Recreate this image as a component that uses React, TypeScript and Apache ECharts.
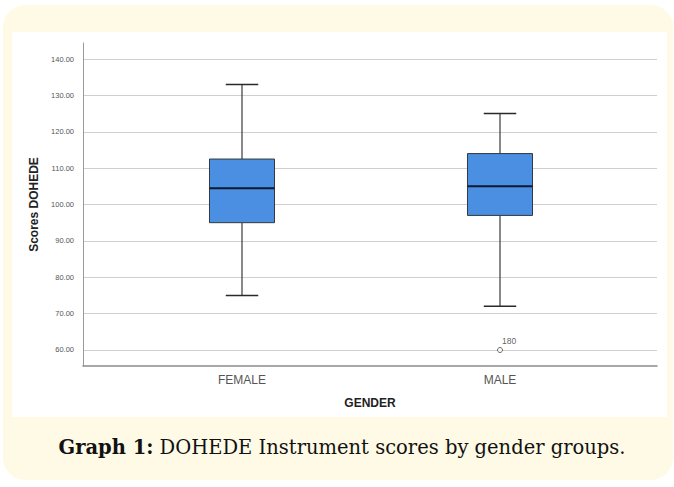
import React, { useEffect, useRef } from "react";
import * as echarts from "echarts";

const categories = ["FEMALE", "MALE"];
// [min, Q1, median, Q3, max]
const boxValues = [
  [75, 95, 104.5, 112.5, 133],
  [72, 97, 105, 114, 125],
];
const outliers = [[1, 60]];
const outlierLabels = ["180"];
const yMin = 55.6;
const yMax = 144.4;

export default function App() {
  const ref = useRef<HTMLDivElement>(null);

  useEffect(() => {
    if (!ref.current) return;
    const chart = echarts.init(ref.current, null, { renderer: "svg" });
    const boxData = boxValues.map((v, i) => [i, ...v]);

    const option: any = {
      animation: false,
      backgroundColor: "#ffffff",
      graphic: [
        {
          type: "rect",
          z: -10,
          shape: { x: 3, y: 5, width: 670, height: 475, r: 22 },
          style: { fill: "#fefae6" },
        },
        {
          type: "rect",
          z: -9,
          shape: { x: 12, y: 32, width: 655, height: 385 },
          style: { fill: "#ffffff" },
        },
        {
          type: "text",
          x: 342,
          y: 447,
          style: {
            text: "{b|Graph 1:} DOHEDE Instrument scores by gender groups.",
            font: "19.5px 'DejaVu Serif'",
            fill: "#111111",
            align: "center",
            verticalAlign: "middle",
            rich: {
              b: { fontWeight: "bold", fontFamily: "DejaVu Serif", fontSize: 19.5, fill: "#111111" },
            },
          },
        },
      ],
      grid: [
        { left: 83, right: 17, top: 43, bottom: 121 },
        { left: 113, right: 45, top: 43, bottom: 121 },
      ],
      xAxis: [
        {
          type: "category",
          gridIndex: 0,
          data: [],
          name: "GENDER",
          nameLocation: "middle",
          nameGap: 31,
          nameTextStyle: { fontFamily: "Liberation Sans", fontWeight: "bold", fontSize: 12, color: "#222" },
          axisLine: { lineStyle: { color: "#8a8a8a", width: 1.5 } },
          axisTick: { show: false },
          axisLabel: { show: false },
          splitLine: { show: false },
        },
        {
          type: "category",
          gridIndex: 1,
          data: categories,
          axisLine: { show: false },
          axisTick: { show: false },
          axisLabel: { margin: 8, fontFamily: "Liberation Sans", fontSize: 12, color: "#555" },
          splitLine: { show: false },
        },
      ],
      yAxis: [
        {
          type: "value",
          gridIndex: 0,
          min: yMin,
          max: yMax,
          splitNumber: 9,
          name: "Scores DOHEDE",
          nameLocation: "middle",
          nameGap: 34,
          nameRotate: 90,
          nameTextStyle: { fontFamily: "Liberation Sans", fontWeight: "bold", fontSize: 12, color: "#222" },
          axisLine: { show: true, lineStyle: { color: "#9a9a9a", width: 1 } },
          axisTick: { show: false },
          axisLabel: {
            margin: 9,
            fontFamily: "Liberation Sans",
            fontSize: 7.5,
            color: "#555",
            showMinLabel: false,
            showMaxLabel: false,
            formatter: (v: number) => v.toFixed(2),
          },
          splitLine: {
            show: true,
            showMinLine: false,
            showMaxLine: false,
            lineStyle: { color: "#cfcfcf", width: 1 },
          },
        },
        {
          type: "value",
          gridIndex: 1,
          min: yMin,
          max: yMax,
          splitNumber: 9,
          show: false,
          splitLine: { show: false },
        },
      ],
      series: [
        {
          type: "custom",
          xAxisIndex: 1,
          yAxisIndex: 1,
          data: boxData,
          encode: { x: 0, y: [1, 2, 3, 4, 5] },
          renderItem: (params: any, api: any) => {
            const idx = api.value(0);
            const pMin = api.coord([idx, api.value(1)]);
            const pQ1 = api.coord([idx, api.value(2)]);
            const pMed = api.coord([idx, api.value(3)]);
            const pQ3 = api.coord([idx, api.value(4)]);
            const pMax = api.coord([idx, api.value(5)]);
            const band = api.size([1, 0])[0];
            const bw = band * 0.252;
            const cw = bw / 2;
            const x = pMin[0];
            const lineStyle = { stroke: "#3a3a3a", lineWidth: 1.2 };
            return {
              type: "group",
              children: [
                { type: "line", shape: { x1: x, y1: pMin[1], x2: x, y2: pQ1[1] }, style: lineStyle },
                { type: "line", shape: { x1: x, y1: pQ3[1], x2: x, y2: pMax[1] }, style: lineStyle },
                { type: "line", shape: { x1: x - cw / 2, y1: pMin[1], x2: x + cw / 2, y2: pMin[1] }, style: { stroke: "#2a2a2a", lineWidth: 1.5 } },
                { type: "line", shape: { x1: x - cw / 2, y1: pMax[1], x2: x + cw / 2, y2: pMax[1] }, style: { stroke: "#2a2a2a", lineWidth: 1.5 } },
                {
                  type: "rect",
                  shape: { x: x - bw / 2, y: pQ3[1], width: bw, height: pQ1[1] - pQ3[1] },
                  style: { fill: "#4a8fe2", stroke: "#33393f", lineWidth: 1 },
                },
                { type: "line", shape: { x1: x - bw / 2, y1: pMed[1], x2: x + bw / 2, y2: pMed[1] }, style: { stroke: "#0d1a2b", lineWidth: 2 } },
              ],
            };
          },
        },
        {
          type: "scatter",
          xAxisIndex: 1,
          yAxisIndex: 1,
          data: outliers,
          symbol: "circle",
          symbolSize: 5,
          itemStyle: { color: "#ffffff", borderColor: "#444", borderWidth: 1 },
          label: {
            show: true,
            position: [5, -6],
            align: "left",
            verticalAlign: "middle",
            formatter: (p: any) => outlierLabels[p.dataIndex],
            fontFamily: "Liberation Sans",
            fontSize: 8.5,
            color: "#333",
          },
        },
      ],
    };
    chart.setOption(option);
    return () => chart.dispose();
  }, []);

  return (
    <div
      ref={ref}
      style={{ position: "absolute", left: 0, top: 0, width: 674, height: 487 }}
    />
  );
}
